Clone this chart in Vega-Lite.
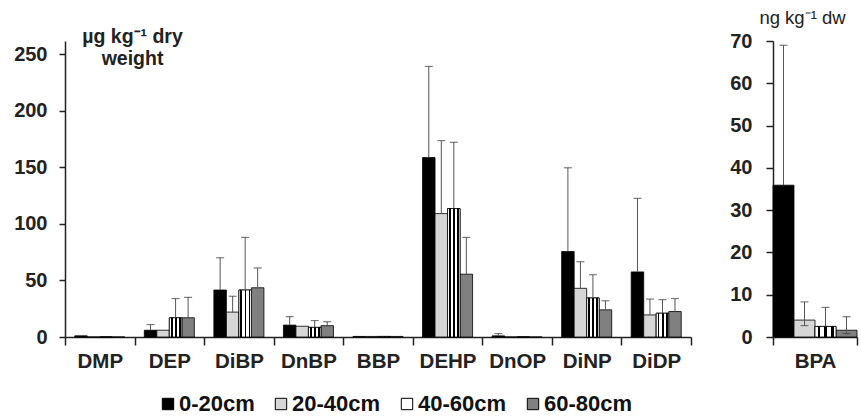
{
  "$schema": "https://vega.github.io/schema/vega-lite/v6.json",
  "background": "white",
  "padding": {"left": 13, "top": 8, "right": 5, "bottom": 5},
  "config": {
    "view": {"stroke": null},
    "font": "Liberation Sans",
    "axis": {"grid": false, "domainColor": "#222", "tickColor": "#222", "domainWidth": 1.5, "tickWidth": 1.5, "labelColor": "#222", "labelFontWeight": "bold", "labelFontSize": 20, "titleColor": "#222"}
  },
  "datasets": {
    "left": [
      {"cat": "DMP", "depth": "0-20cm", "v": 1, "hi": 1, "lo": 1},
      {"cat": "DMP", "depth": "20-40cm", "v": 0, "hi": 0, "lo": 0},
      {"cat": "DMP", "depth": "40-60cm", "v": 0, "hi": 0, "lo": 0},
      {"cat": "DMP", "depth": "60-80cm", "v": 0, "hi": 0, "lo": 0},
      {"cat": "DEP", "depth": "0-20cm", "v": 6, "hi": 11, "lo": 6},
      {"cat": "DEP", "depth": "20-40cm", "v": 6, "hi": 6, "lo": 6},
      {"cat": "DEP", "depth": "40-60cm", "v": 17, "hi": 34, "lo": 17},
      {"cat": "DEP", "depth": "60-80cm", "v": 17, "hi": 35, "lo": 17},
      {"cat": "DiBP", "depth": "0-20cm", "v": 41.5, "hi": 70, "lo": 41.5},
      {"cat": "DiBP", "depth": "20-40cm", "v": 22, "hi": 36, "lo": 22},
      {"cat": "DiBP", "depth": "40-60cm", "v": 41.5, "hi": 88, "lo": 41.5},
      {"cat": "DiBP", "depth": "60-80cm", "v": 43.5, "hi": 61, "lo": 43.5},
      {"cat": "DnBP", "depth": "0-20cm", "v": 10.5, "hi": 18, "lo": 10.5},
      {"cat": "DnBP", "depth": "20-40cm", "v": 9.5, "hi": 9.5, "lo": 9.5},
      {"cat": "DnBP", "depth": "40-60cm", "v": 8.5, "hi": 14.5, "lo": 8.5},
      {"cat": "DnBP", "depth": "60-80cm", "v": 10, "hi": 13.5, "lo": 10},
      {"cat": "BBP", "depth": "0-20cm", "v": 0.5, "hi": 0.5, "lo": 0.5},
      {"cat": "BBP", "depth": "20-40cm", "v": 0.5, "hi": 0.5, "lo": 0.5},
      {"cat": "BBP", "depth": "40-60cm", "v": 0.5, "hi": 0.5, "lo": 0.5},
      {"cat": "BBP", "depth": "60-80cm", "v": 0.5, "hi": 0.5, "lo": 0.5},
      {"cat": "DEHP", "depth": "0-20cm", "v": 158.5, "hi": 239, "lo": 158.5},
      {"cat": "DEHP", "depth": "20-40cm", "v": 109, "hi": 173.5, "lo": 109},
      {"cat": "DEHP", "depth": "40-60cm", "v": 113.5, "hi": 172, "lo": 113.5},
      {"cat": "DEHP", "depth": "60-80cm", "v": 55.5, "hi": 88, "lo": 55.5},
      {"cat": "DnOP", "depth": "0-20cm", "v": 1, "hi": 3, "lo": 1},
      {"cat": "DnOP", "depth": "20-40cm", "v": 0, "hi": 0, "lo": 0},
      {"cat": "DnOP", "depth": "40-60cm", "v": 0, "hi": 0, "lo": 0},
      {"cat": "DnOP", "depth": "60-80cm", "v": 0, "hi": 0, "lo": 0},
      {"cat": "DiNP", "depth": "0-20cm", "v": 75.5, "hi": 149.5, "lo": 75.5},
      {"cat": "DiNP", "depth": "20-40cm", "v": 43, "hi": 66.5, "lo": 43},
      {"cat": "DiNP", "depth": "40-60cm", "v": 34.5, "hi": 55, "lo": 34.5},
      {"cat": "DiNP", "depth": "60-80cm", "v": 24, "hi": 32, "lo": 24},
      {"cat": "DiDP", "depth": "0-20cm", "v": 57.5, "hi": 122.5, "lo": 57.5},
      {"cat": "DiDP", "depth": "20-40cm", "v": 19.5, "hi": 33.5, "lo": 19.5},
      {"cat": "DiDP", "depth": "40-60cm", "v": 21, "hi": 33, "lo": 21},
      {"cat": "DiDP", "depth": "60-80cm", "v": 22.5, "hi": 34, "lo": 22.5}
    ],
    "right": [
      {"cat": "BPA", "depth": "0-20cm", "v": 35.9, "hi": 69, "lo": 35.9},
      {"cat": "BPA", "depth": "20-40cm", "v": 4.0, "hi": 8.3, "lo": 2.7},
      {"cat": "BPA", "depth": "40-60cm", "v": 2.5, "hi": 7.0, "lo": 2.5},
      {"cat": "BPA", "depth": "60-80cm", "v": 1.6, "hi": 4.8, "lo": 0.8}
    ]
  },
  "spacing": 37,
  "resolve": {"scale": {"xOffset": "independent", "x": "independent", "y": "independent"}},
  "hconcat": [
    {
      "width": 626,
      "height": 296,
      "data": {"name": "left"},
      "encoding": {
        "x": {"field": "cat", "type": "nominal", "sort": ["DMP", "DEP", "DiBP", "DnBP", "BBP", "DEHP", "DnOP", "DiNP", "DiDP"],
              "scale": {"paddingInner": 0, "paddingOuter": 0},
              "axis": {"title": null, "labelAngle": 0, "tickBand": "extent", "tickSize": 8, "labelPadding": 6, "labelFontSize": 20.5}},
        "xOffset": {"field": "depth", "type": "nominal", "scale": {"domain": ["0-20cm", "20-40cm", "40-60cm", "60-80cm"], "paddingOuter": 0.78, "paddingInner": 0}},
        "y": {"field": "v", "type": "quantitative", "scale": {"domain": [0, 261.5], "nice": false},
              "axis": {"values": [0, 50, 100, 150, 200, 250], "tickSize": 6, "labelPadding": 12,
                       "title": ["µg kg⁻¹ dry", "weight"], "titleAngle": 0, "titleAlign": "center", "titleBaseline": "alphabetic",
                       "titleX": 67, "titleY": 1, "titleFontSize": 19.5, "titleFontWeight": "bold", "titleLineHeight": 22}}
      },
      "layer": [
        {
          "mark": {"type": "bar", "stroke": "#000", "strokeWidth": 0.8},
          "encoding": {
            "fill": {"field": "depth", "type": "nominal",
                     "scale": {"domain": ["0-20cm", "20-40cm", "40-60cm", "60-80cm"], "range": ["#000000", "#d6d6d6", "#ffffff", "#808080"]},
                     "legend": {"orient": "none", "legendX": 92, "legendY": 352, "direction": "horizontal", "title": null,
                                "labelFontSize": 22, "labelFontWeight": "bold", "labelColor": "#111", "symbolType": "square", "symbolSize": 130,
                                "symbolStrokeColor": "#000", "symbolStrokeWidth": 1, "columnPadding": 15, "labelOffset": 0}}
          }
        },
        {
          "transform": [{"filter": "datum.depth == '40-60cm'"}],
          "mark": {"type": "bar", "stroke": "#000", "strokeWidth": 0.8,
                   "fill": {"gradient": "linear", "x1": 0, "y1": 0, "x2": 1, "y2": 0, "stops": [
                     {"offset": 0, "color": "#ffffff"}, {"offset": 0.12, "color": "#ffffff"},
                     {"offset": 0.12, "color": "#000000"}, {"offset": 0.26, "color": "#000000"},
                     {"offset": 0.26, "color": "#ffffff"}, {"offset": 0.45, "color": "#ffffff"},
                     {"offset": 0.45, "color": "#000000"}, {"offset": 0.59, "color": "#000000"},
                     {"offset": 0.59, "color": "#ffffff"}, {"offset": 0.78, "color": "#ffffff"},
                     {"offset": 0.78, "color": "#000000"}, {"offset": 0.92, "color": "#000000"},
                     {"offset": 0.92, "color": "#ffffff"}, {"offset": 1, "color": "#ffffff"}]}},
          "encoding": {}
        },
        {
          "transform": [{"filter": "datum.hi > datum.v"}],
          "mark": {"type": "rule", "color": "#555", "strokeWidth": 1},
          "encoding": {"y": {"field": "lo", "type": "quantitative"}, "y2": {"field": "hi"}}
        },
        {
          "transform": [{"filter": "datum.hi > datum.v"}],
          "mark": {"type": "tick", "orient": "horizontal", "size": 8, "thickness": 1.2, "color": "#444"},
          "encoding": {"y": {"field": "hi", "type": "quantitative"}}
        }
      ]
    },
    {
      "width": 84,
      "height": 296,
      "data": {"name": "right"},
      "encoding": {
        "x": {"field": "cat", "type": "nominal", "scale": {"paddingInner": 0, "paddingOuter": 0},
              "axis": {"title": null, "labelAngle": 0, "tickBand": "extent", "tickSize": 8, "labelPadding": 6, "labelFontSize": 20.5}},
        "xOffset": {"field": "depth", "type": "nominal", "scale": {"domain": ["0-20cm", "20-40cm", "40-60cm", "60-80cm"], "paddingOuter": 0, "paddingInner": 0}},
        "y": {"field": "v", "type": "quantitative", "scale": {"domain": [0, 70], "nice": false},
              "axis": {"values": [0, 10, 20, 30, 40, 50, 60, 70], "tickSize": 7, "labelPadding": 14,
                       "title": "ng kg⁻¹ dw", "titleAngle": 0, "titleAlign": "center", "titleBaseline": "alphabetic",
                       "titleX": 29, "titleY": -18, "titleFontSize": 18.5, "titleFontWeight": "normal"}}
      },
      "layer": [
        {
          "mark": {"type": "bar", "stroke": "#000", "strokeWidth": 0.8},
          "encoding": {
            "fill": {"field": "depth", "type": "nominal",
                     "scale": {"domain": ["0-20cm", "20-40cm", "40-60cm", "60-80cm"], "range": ["#000000", "#d6d6d6", "#ffffff", "#808080"]},
                     "legend": {"orient": "none", "legendX": 92, "legendY": 352, "direction": "horizontal", "title": null,
                                "labelFontSize": 22, "labelFontWeight": "bold", "labelColor": "#111", "symbolType": "square", "symbolSize": 130,
                                "symbolStrokeColor": "#000", "symbolStrokeWidth": 1, "columnPadding": 15, "labelOffset": 0}}
          }
        },
        {
          "transform": [{"filter": "datum.depth == '40-60cm'"}],
          "mark": {"type": "bar", "stroke": "#000", "strokeWidth": 0.8,
                   "fill": {"gradient": "linear", "x1": 0, "y1": 0, "x2": 1, "y2": 0, "stops": [
                     {"offset": 0, "color": "#ffffff"}, {"offset": 0.12, "color": "#ffffff"},
                     {"offset": 0.12, "color": "#000000"}, {"offset": 0.26, "color": "#000000"},
                     {"offset": 0.26, "color": "#ffffff"}, {"offset": 0.45, "color": "#ffffff"},
                     {"offset": 0.45, "color": "#000000"}, {"offset": 0.59, "color": "#000000"},
                     {"offset": 0.59, "color": "#ffffff"}, {"offset": 0.78, "color": "#ffffff"},
                     {"offset": 0.78, "color": "#000000"}, {"offset": 0.92, "color": "#000000"},
                     {"offset": 0.92, "color": "#ffffff"}, {"offset": 1, "color": "#ffffff"}]}},
          "encoding": {}
        },
        {
          "transform": [{"filter": "datum.hi > datum.v"}],
          "mark": {"type": "rule", "color": "#555", "strokeWidth": 1},
          "encoding": {"y": {"field": "lo", "type": "quantitative"}, "y2": {"field": "hi"}}
        },
        {
          "transform": [{"filter": "datum.hi > datum.v"}],
          "mark": {"type": "tick", "orient": "horizontal", "size": 8, "thickness": 1.2, "color": "#444"},
          "encoding": {"y": {"field": "hi", "type": "quantitative"}}
        },
        {
          "transform": [{"filter": "datum.lo < datum.v"}],
          "mark": {"type": "tick", "orient": "horizontal", "size": 8, "thickness": 1.2, "color": "#444"},
          "encoding": {"y": {"field": "lo", "type": "quantitative"}}
        }
      ]
    }
  ]
}
